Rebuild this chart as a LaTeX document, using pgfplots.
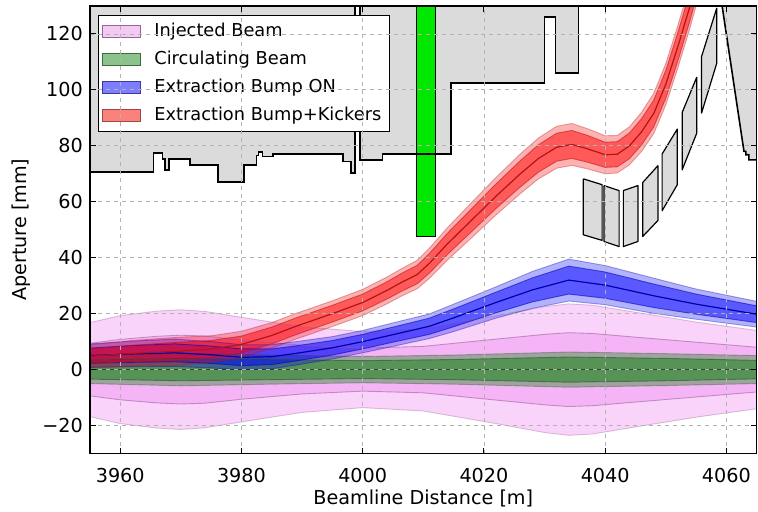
\documentclass[border=0pt]{standalone}
\usepackage{fontspec}
\setmainfont{DejaVu Sans}
\usepackage{pgfplots}
\pgfplotsset{compat=1.18}
\usepackage{pgfplotstable}
\usepgfplotslibrary{fillbetween}

\definecolor{injc}{RGB}{238,130,238}
\definecolor{injl}{RGB}{150,90,150}
\definecolor{circ}{RGB}{0,128,0}
\definecolor{circl}{RGB}{30,80,30}
\definecolor{bon}{RGB}{0,0,255}
\definecolor{bonl}{RGB}{0,0,170}
\definecolor{kick}{RGB}{255,0,0}
\definecolor{kickl}{RGB}{180,20,20}
\definecolor{septg}{RGB}{0,232,0}
\definecolor{apg}{RGB}{219,219,219}

% beam envelopes: x, outer low, inner low, centre, inner high, outer high
\pgfplotstableread{
x lo2 lo1 c hi1 hi2
3955 -16.8 -9.4 0 9.4 16.8
3960 -19.3 -10.8 0 10.8 19.3
3966 -20.9 -11.9 0 11.9 20.9
3970 -21.4 -12.3 0 12.3 21.4
3974 -20.8 -12.0 0 12.0 20.8
3980 -18.7 -10.6 0 10.6 18.7
3990 -15.3 -8.7 0 8.7 15.3
4000 -13.6 -7.7 0 7.7 13.6
4010 -14.8 -8.3 0 8.3 14.8
4022 -19.3 -10.9 0 10.9 19.3
4030 -22.5 -12.6 0 12.6 22.5
4034 -23.5 -13.2 0 13.2 23.5
4038 -23.0 -12.9 0 12.9 23.0
4045 -20.5 -11.6 0 11.6 20.5
4055 -17.0 -9.8 0 9.8 17.0
4065 -14.0 -8.0 0 8.0 14.0
}\injtab

\pgfplotstableread{
x lo2 lo1 c hi1 hi2
3955 -5.0 -3.4 0 3.4 5.0
3970 -5.8 -4.0 0 4.0 5.8
3985 -5.2 -3.6 0 3.6 5.2
4000 -4.7 -3.2 0 3.2 4.7
4015 -5.2 -3.6 0 3.6 5.2
4034 -6.3 -4.5 0 4.5 6.3
4050 -5.7 -4.0 0 4.0 5.7
4065 -5.0 -3.3 0 3.3 5.0
}\circtab

\pgfplotstableread{
x lo2 lo1 c hi1 hi2
3955 0.8 2.3 5.0 7.7 9.2
3962 1.0 2.6 5.6 8.6 10.2
3969 1.1 2.8 6.0 9.2 10.9
3975 0.6 2.2 5.3 8.4 10.0
3980 -0.1 1.4 4.4 7.4 8.9
3985 0.3 1.8 4.6 7.4 8.9
3989 1.6 3.1 5.8 8.5 10.0
3995 3.8 5.2 7.8 10.4 11.8
4000 6.0 7.4 10.0 12.6 14.0
4005 8.3 9.8 12.5 15.2 16.7
4011 11.1 12.6 15.5 18.4 19.9
4015 13.6 15.3 18.5 21.7 23.4
4022 18.4 20.3 24.0 27.7 29.6
4028 21.9 24.2 28.5 32.8 35.1
4034 24.5 27.0 32.0 37.0 39.5
4040 23.2 25.5 30.2 34.9 37.2
4048 20.1 22.2 26.4 30.6 32.7
4055 18.0 19.8 23.4 27.0 28.8
4065 15.2 16.8 19.8 22.8 24.4
}\bontab

\pgfplotstableread{
x lo2 lo1 c hi1 hi2
3955 0.7 2.2 4.8 7.4 8.9
3962 1.2 2.9 5.8 8.7 10.4
3969 1.5 3.3 6.5 9.7 11.5
3975 2.5 4.2 7.3 10.4 12.1
3980 4.3 6.0 9.0 12.0 13.7
3985 7.6 9.2 12.2 15.2 16.8
3989 10.9 12.5 15.5 18.5 20.1
3995 15.4 17.0 20.0 23.0 24.6
4000 19.3 21.0 24.0 27.0 28.7
4004 23.5 25.2 28.3 31.4 33.1
4006.5 26.4 28.1 31.3 34.5 36.2
4009 28.9 30.7 34.0 37.3 39.1
4011 32.6 34.5 38.0 41.5 43.4
4014 39.2 41.2 45.0 48.8 50.8
4018 47.2 49.4 53.5 57.6 59.8
4022 55.3 57.6 62.0 66.4 68.7
4026 62.9 65.3 70.0 74.7 77.1
4029 68.2 70.6 75.5 80.4 82.8
4032 72.0 74.5 79.5 84.5 87.0
4034.5 73.0 75.5 80.5 85.5 88.0
4037 71.8 74.2 79.0 83.8 86.2
4040 70.0 72.3 76.8 81.3 83.6
4042 70.3 72.5 77.0 81.5 83.7
4044 73.2 75.4 80.0 84.6 86.8
4046 78.0 80.3 85.0 89.7 92.0
4048 84.3 86.7 91.5 96.3 98.7
4050 94.6 97.0 102.0 107.0 109.4
4052 107.9 110.4 115.5 120.6 123.1
4054 122.2 124.8 130.0 135.2 137.8
4055.5 134.0 136.7 142.0 147.3 150.0
}\kicktab

% #1 id, #2 table, #3 fill colour, #4 line colour, #5 outer opacity, #6 inner opacity, #7 draw centre (1/0)
\newcommand{\beam}[7]{%
  \addplot[name path=#1a, draw=none, forget plot] table[x=x,y=hi2]{#2};
  \addplot[name path=#1b, draw=none, forget plot] table[x=x,y=lo2]{#2};
  \addplot[name path=#1c, draw=none, forget plot] table[x=x,y=hi1]{#2};
  \addplot[name path=#1d, draw=none, forget plot] table[x=x,y=lo1]{#2};
  \addplot[fill=#3, fill opacity=#5, draw=none, forget plot] fill between[of=#1a and #1b];
  \addplot[fill=#3, fill opacity=#6, draw=none, forget plot] fill between[of=#1c and #1d];
  \addplot[draw=#4, draw opacity=0.35, line width=0.45pt, forget plot] table[x=x,y=hi2]{#2};
  \addplot[draw=#4, draw opacity=0.35, line width=0.45pt, forget plot] table[x=x,y=lo2]{#2};
  \addplot[draw=#4, draw opacity=0.55, line width=0.45pt, forget plot] table[x=x,y=hi1]{#2};
  \addplot[draw=#4, draw opacity=0.55, line width=0.45pt, forget plot] table[x=x,y=lo1]{#2};
  \ifnum#7=1 \addplot[draw=#4, line width=0.6pt, forget plot] table[x=x,y=c]{#2};\fi
}

\begin{document}
\begin{tikzpicture}
\begin{axis}[
  scale only axis, width=333.75pt, height=224pt,
  xmin=3955, xmax=4065, ymin=-30, ymax=130,
  xtick={3960,3980,...,4060}, ytick={-20,0,...,120},
  yticklabels={−20,0,20,40,60,80,100,120},
  /pgf/number format/1000 sep={},
  /pgf/number format/assume math mode=true,
  axis on top,
  clip bounding box=upper bound,
  grid=major,
  major grid style={gray!60, dash pattern=on 2pt off 2pt, line width=0.4pt},
  tick align=inside, xtick pos=both, ytick pos=both,
  major tick length=3pt,
  tick style={black, line width=0.5pt},
  axis line style={line width=0.7pt},
  tick label style={font=\fontsize{9.6}{11}\selectfont},
  label style={font=\fontsize{9.6}{11}\selectfont},
  xticklabel style={yshift=-4pt},
  yticklabel style={xshift=0pt},
  xlabel={Beamline Distance [m]},
  ylabel={Aperture [mm]},
  xlabel style={at={(axis description cs:0.5,-0.1)}, anchor=center},
  ylabel style={at={(axis description cs:-0.1034,0.5)}, anchor=center},
  legend style={at={(0.012,0.98)}, anchor=north west, draw=black, line width=0.5pt,
    fill=white, font=\fontsize{8.9}{10}\selectfont, inner xsep=2pt, inner ysep=1pt,
    row sep=0pt, nodes={inner sep=2pt, text height=7.6pt, text depth=2.4pt},
    cells={anchor=west}},
  legend image code/.code={\draw[#1] (3.5pt,-3pt) rectangle (22.5pt,3pt); \path (27pt,0pt);},
]
% aperture (gray, from wall to top)
\addplot[fill=apg, draw=none, forget plot] coordinates {
(3950,70.6) (3965.5,70.6) (3965.5,77.5) (3967.0,77.5) (3967.0,75.2) (3967.4,75.2)
(3967.4,71.4) (3968.0,71.4) (3968.0,75.2) (3971.5,75.2) (3971.5,73.2) (3976.1,73.2)
(3976.1,67.0) (3980.4,67.0) (3980.4,73.2) (3982.5,73.2) (3982.5,76.5) (3982.8,76.5)
(3982.8,77.8) (3983.5,77.8) (3983.5,76.2) (3985.2,76.2) (3985.2,77.1) (3996.8,77.1)
(3996.8,74.4) (3998.1,74.4) (3998.1,70.2) (3998.7,70.2) (3998.7,140) (3999.6,140)
(3999.6,75.0) (4003.3,75.0) (4003.3,77.1) (4014.6,77.1) (4014.6,102.4) (4030.0,102.4)
(4030.0,126.0) (4031.8,126.0) (4031.8,106.0) (4035.6,106.0) (4035.6,140) (3950,140)};
\addplot[fill=apg, draw=none, forget plot] coordinates {
(4058.6,140) (4062.9,78.0) (4063.2,78.0) (4063.2,76.8) (4063.7,76.8) (4063.7,75.0)
(4070,75.0) (4070,140)};
% septum
\addplot[fill=septg, draw=black, line width=0.6pt, forget plot] coordinates {
(4008.9,140) (4008.9,47.6) (4012.0,47.6) (4012.0,140)};
% aperture outline
\addplot[draw=black, line width=0.8pt, forget plot] coordinates {
(3950,70.6) (3965.5,70.6) (3965.5,77.5) (3967.0,77.5) (3967.0,75.2) (3967.4,75.2)
(3967.4,71.4) (3968.0,71.4) (3968.0,75.2) (3971.5,75.2) (3971.5,73.2) (3976.1,73.2)
(3976.1,67.0) (3980.4,67.0) (3980.4,73.2) (3982.5,73.2) (3982.5,76.5) (3982.8,76.5)
(3982.8,77.8) (3983.5,77.8) (3983.5,76.2) (3985.2,76.2) (3985.2,77.1) (3996.8,77.1)
(3996.8,74.4) (3998.1,74.4) (3998.1,70.2) (3998.7,70.2) (3998.7,140)};
\addplot[draw=black, line width=0.8pt, forget plot] coordinates {
(3999.6,140) (3999.6,75.0) (4003.3,75.0) (4003.3,77.1) (4014.6,77.1) (4014.6,102.4)
(4030.0,102.4) (4030.0,126.0) (4031.8,126.0) (4031.8,106.0) (4035.6,106.0) (4035.6,140)};
\addplot[draw=black, line width=0.8pt, forget plot] coordinates {
(4058.6,140) (4062.9,78.0) (4063.2,78.0) (4063.2,76.8) (4063.7,76.8) (4063.7,75.0) (4070,75.0)};
% extraction septum blades
\addplot[fill=apg, draw=black, line width=0.6pt, line join=round, forget plot] coordinates {(4036.4,68.2) (4039.5,66.1) (4039.5,46.2) (4036.4,48.2) (4036.4,68.2)};
\addplot[fill=apg, draw=black, line width=0.6pt, line join=round, forget plot] coordinates {(4039.8,65.8) (4042.3,64.0) (4042.3,44.0) (4039.8,45.8) (4039.8,65.8)};
\addplot[fill=apg, draw=black, line width=0.6pt, line join=round, forget plot] coordinates {(4043.0,64.0) (4045.4,65.8) (4045.4,45.8) (4043.0,44.0) (4043.0,64.0)};
\addplot[fill=apg, draw=black, line width=0.6pt, line join=round, forget plot] coordinates {(4046.2,66.9) (4048.7,72.9) (4048.7,53.3) (4046.2,47.6) (4046.2,66.9)};
\addplot[fill=apg, draw=black, line width=0.6pt, line join=round, forget plot] coordinates {(4049.4,77.1) (4051.9,86.0) (4051.9,66.1) (4049.4,56.8) (4049.4,77.1)};
\addplot[fill=apg, draw=black, line width=0.6pt, line join=round, forget plot] coordinates {(4052.7,91.9) (4055.1,104.5) (4055.1,84.5) (4052.7,71.4) (4052.7,91.9)};
\addplot[fill=apg, draw=black, line width=0.6pt, line join=round, forget plot] coordinates {(4055.9,111.9) (4058.4,129.2) (4058.4,109.5) (4055.9,91.7) (4055.9,111.9)};

% beams
\beam{inj}{\injtab}{injc}{injl}{0.35}{0.38}{0}
\beam{cir}{\circtab}{circ}{circl}{0.35}{0.45}{1}
\beam{bon}{\bontab}{bon}{bonl}{0.3}{0.5}{1}
\beam{kik}{\kicktab}{kick}{kickl}{0.3}{0.5}{1}

\addlegendimage{fill={rgb,255:red,242;green,202;blue,242}, draw={rgb,255:red,150;green,100;blue,150}, line width=0.5pt}
\addlegendentry{Injected Beam}
\addlegendimage{fill={rgb,255:red,140;green,195;blue,140}, draw={rgb,255:red,60;green,110;blue,60}, line width=0.5pt}
\addlegendentry{Circulating Beam}
\addlegendimage{fill={rgb,255:red,125;green,125;blue,255}, draw={rgb,255:red,60;green,60;blue,150}, line width=0.5pt}
\addlegendentry{Extraction Bump ON}
\addlegendimage{fill={rgb,255:red,250;green,130;blue,125}, draw={rgb,255:red,160;green,70;blue,70}, line width=0.5pt}
\addlegendentry{Extraction Bump+Kickers}
\end{axis}
\pgfresetboundingbox
\useasboundingbox (-45pt,-29pt) rectangle (334.4pt,227pt);
\end{tikzpicture}
\end{document}
